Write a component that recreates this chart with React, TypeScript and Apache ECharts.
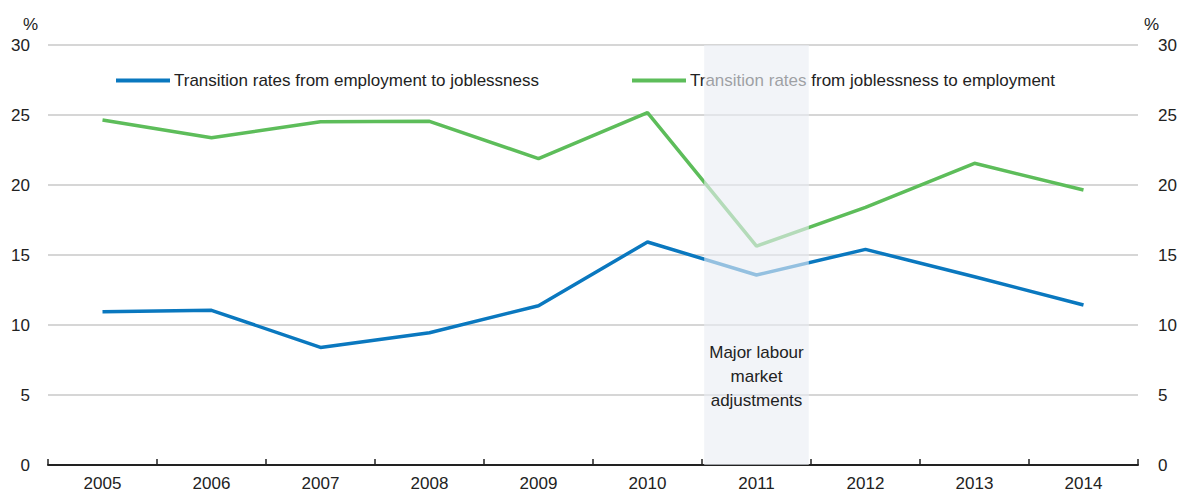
import React, { useEffect, useRef } from "react";
import * as echarts from "echarts";

const years = ["2005", "2006", "2007", "2008", "2009", "2010", "2011", "2012", "2013", "2014"];
const empToJobless = [10.95, 11.05, 8.4, 9.45, 11.38, 15.93, 13.57, 15.4, 13.45, 11.43];
const joblessToEmp = [24.64, 23.38, 24.52, 24.55, 21.88, 25.17, 15.64, 18.4, 21.55, 19.64];
const shadeValues = [null, null, null, null, null, null, 30, null, null, null];
const yTicks = { min: 0, max: 30, interval: 5 };
const nameBlue = "Transition rates from employment to joblessness";
const nameGreen = "Transition rates from joblessness to employment";
const shadeLabel = "Major labour\nmarket\nadjustments";

const FONT = "'Liberation Sans', Arial, Helvetica, sans-serif";
const BLUE = "#0a78bf";
const GREEN = "#5dbd5a";

export default function App() {
  const ref = useRef<HTMLDivElement>(null);
  useEffect(() => {
    if (!ref.current) return;
    const chart = echarts.init(ref.current, undefined, { renderer: "svg" });
    const yAxisBase = {
      type: "value" as const,
      min: yTicks.min,
      max: yTicks.max,
      interval: yTicks.interval,
      axisLine: { show: false },
      axisTick: { show: false },
      splitLine: { show: true, lineStyle: { color: "#d3d3d3", width: 1.5 } },
      axisLabel: { color: "#222", fontSize: 17, fontFamily: FONT, margin: 18 },
      name: "%",
      nameLocation: "end" as const,
      nameGap: 12,
    };
    chart.setOption({
      animation: false,
      grid: { left: 48, right: 43, top: 45, bottom: 27, containLabel: false },
      legend: [
        {
          data: [nameBlue],
          left: 111,
          top: 67,
          icon: "rect",
          itemWidth: 54,
          itemHeight: 4,
          itemGap: 10,
          textStyle: { color: "#222", fontSize: 17, fontFamily: FONT, padding: [0, 0, 0, -1] },
          selectedMode: false,
        },
        {
          data: [nameGreen],
          left: 627,
          top: 67,
          icon: "rect",
          itemWidth: 54,
          itemHeight: 4,
          textStyle: { color: "#222", fontSize: 17, fontFamily: FONT, padding: [0, 0, 0, -1] },
          selectedMode: false,
        },
      ],
      xAxis: {
        type: "category",
        data: years,
        boundaryGap: true,
        axisLine: { show: true, lineStyle: { color: "#222", width: 2 } },
        axisTick: { show: true, inside: true, length: 6, lineStyle: { color: "#222", width: 1.5 } },
        axisLabel: { color: "#222", fontSize: 17, fontFamily: FONT, margin: 10 },
        splitLine: { show: false },
      },
      yAxis: [
        {
          ...yAxisBase,
          position: "left",
          nameTextStyle: { color: "#222", fontSize: 17, fontFamily: FONT, align: "right", padding: [0, 10, 0, 0] },
        },
        {
          ...yAxisBase,
          position: "right",
          axisLabel: { ...yAxisBase.axisLabel, margin: 20 },
          nameTextStyle: { color: "#222", fontSize: 17, fontFamily: FONT, align: "left", padding: [0, 0, 0, 6] },
        },
      ],
      series: [
        {
          name: nameBlue,
          type: "line",
          data: empToJobless,
          symbol: "none",
          color: BLUE,
          lineStyle: { color: BLUE, width: 3.5 },
          z: 2,
        },
        {
          name: nameGreen,
          type: "line",
          data: joblessToEmp,
          symbol: "none",
          color: GREEN,
          lineStyle: { color: GREEN, width: 3.5 },
          z: 2,
        },
        {
          name: "shade",
          type: "bar",
          data: shadeValues,
          barWidth: "96%",
          z: 5,
          itemStyle: { color: "rgba(234,237,244,0.62)" },
          label: {
            show: true,
            formatter: shadeLabel,
            position: ["50%", "79%"],
            align: "center",
            verticalAlign: "middle",
            color: "#222",
            fontSize: 17,
            lineHeight: 24,
            fontFamily: FONT,
          },
          silent: true,
        },
      ],
    });
    return () => chart.dispose();
  }, []);
  return (
    <div
      ref={ref}
      style={{ position: "fixed", left: 0, top: 0, width: 1181, height: 492, background: "#fff" }}
    />
  );
}
